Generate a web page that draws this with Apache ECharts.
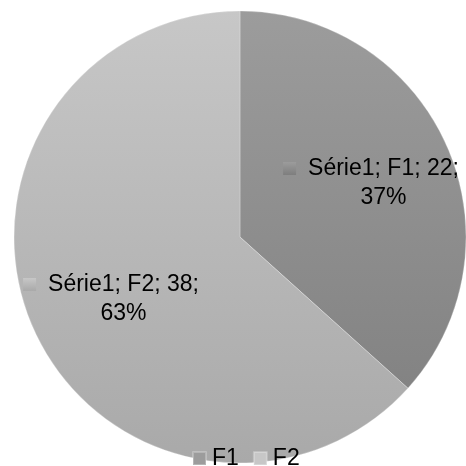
<!DOCTYPE html>
<html>
<head>
<meta charset="utf-8">
<script src="https://cdn.jsdelivr.net/npm/echarts@6/dist/echarts.min.js"></script>
<style>
  html, body { margin: 0; padding: 0; background: #ffffff; }
  #chart { width: 466px; height: 466px; }
</style>
</head>
<body>
<div id="chart"></div>
<script>
// Series data
const seriesName = 'Série1';
const categories = ['F1', 'F2'];
const values = [22, 38];

// Grey shading per slice (top → bottom of the disc)
const sliceShades = [
  ['#9c9c9c', '#7e7e7e'],
  ['#c7c7c7', '#a9a9a9']
];

const cx = 240, cy = 237, r = 226;
const FONT = 'Liberation Sans, Arial, sans-serif';

function grad(pair) {
  return {
    type: 'linear', global: true,
    x: 0, y: cy - r, x2: 0, y2: cy + r,
    colorStops: [{ offset: 0, color: pair[0] }, { offset: 1, color: pair[1] }]
  };
}
function iconGrad(pair) {
  return {
    type: 'linear', x: 0, y: 0, x2: 0, y2: 1,
    colorStops: [{ offset: 0, color: pair[0] }, { offset: 1, color: pair[1] }]
  };
}

const total = values.reduce((a, b) => a + b, 0);

// Label anchor points (label block centre) for each slice
const labelAnchors = [[371, 183], [111, 299]];

const chart = echarts.init(document.getElementById('chart'));
chart.setOption({
  animation: false,
  backgroundColor: '#ffffff',
  legend: {
    left: 192,
    top: 447,
    padding: 0,
    itemWidth: 13,
    itemHeight: 13,
    itemGap: 14,
    icon: 'rect',
    textStyle: { fontFamily: FONT, fontSize: 23, color: '#000000', padding: [0, 0, 0, 1] },
    data: categories
  },
  series: [{
    type: 'pie',
    name: seriesName,
    center: [cx, cy],
    radius: [0, r],
    startAngle: 90,
    clockwise: true,
    itemStyle: { borderColor: 'rgba(255,255,255,0.25)', borderWidth: 1 },
    label: {
      show: true,
      position: 'inside',
      fontFamily: FONT,
      fontSize: 23,
      color: '#000000',
      lineHeight: 29,
      align: 'center',
      formatter: function (p) {
        const pct = Math.round(p.value / total * 100);
        const sq = p.dataIndex === 0 ? 'sq0' : 'sq1';
        return '{' + sq + '|}{gap|}{t|' + seriesName + '; ' + p.name + '; ' + p.value + ';}\n' +
               '{sp|}{t|' + pct + '%}';
      },
      rich: {
        sq0: { width: 13, height: 13, backgroundColor: iconGrad(sliceShades[0]) },
        sq1: { width: 13, height: 13, backgroundColor: iconGrad(sliceShades[1]) },
        gap: { width: 12 },
        sp: { width: 25 },
        t: { fontFamily: FONT, fontSize: 23, color: '#000000', lineHeight: 29 }
      }
    },
    labelLine: { show: false },
    labelLayout: function (params) {
      const a = labelAnchors[params.dataIndex];
      return { x: a[0], y: a[1], align: 'center', verticalAlign: 'middle' };
    },
    emphasis: { disabled: true },
    data: categories.map((c, i) => ({
      name: c,
      value: values[i],
      itemStyle: { color: grad(sliceShades[i]) }
    }))
  }]
});
</script>
</body>
</html>
